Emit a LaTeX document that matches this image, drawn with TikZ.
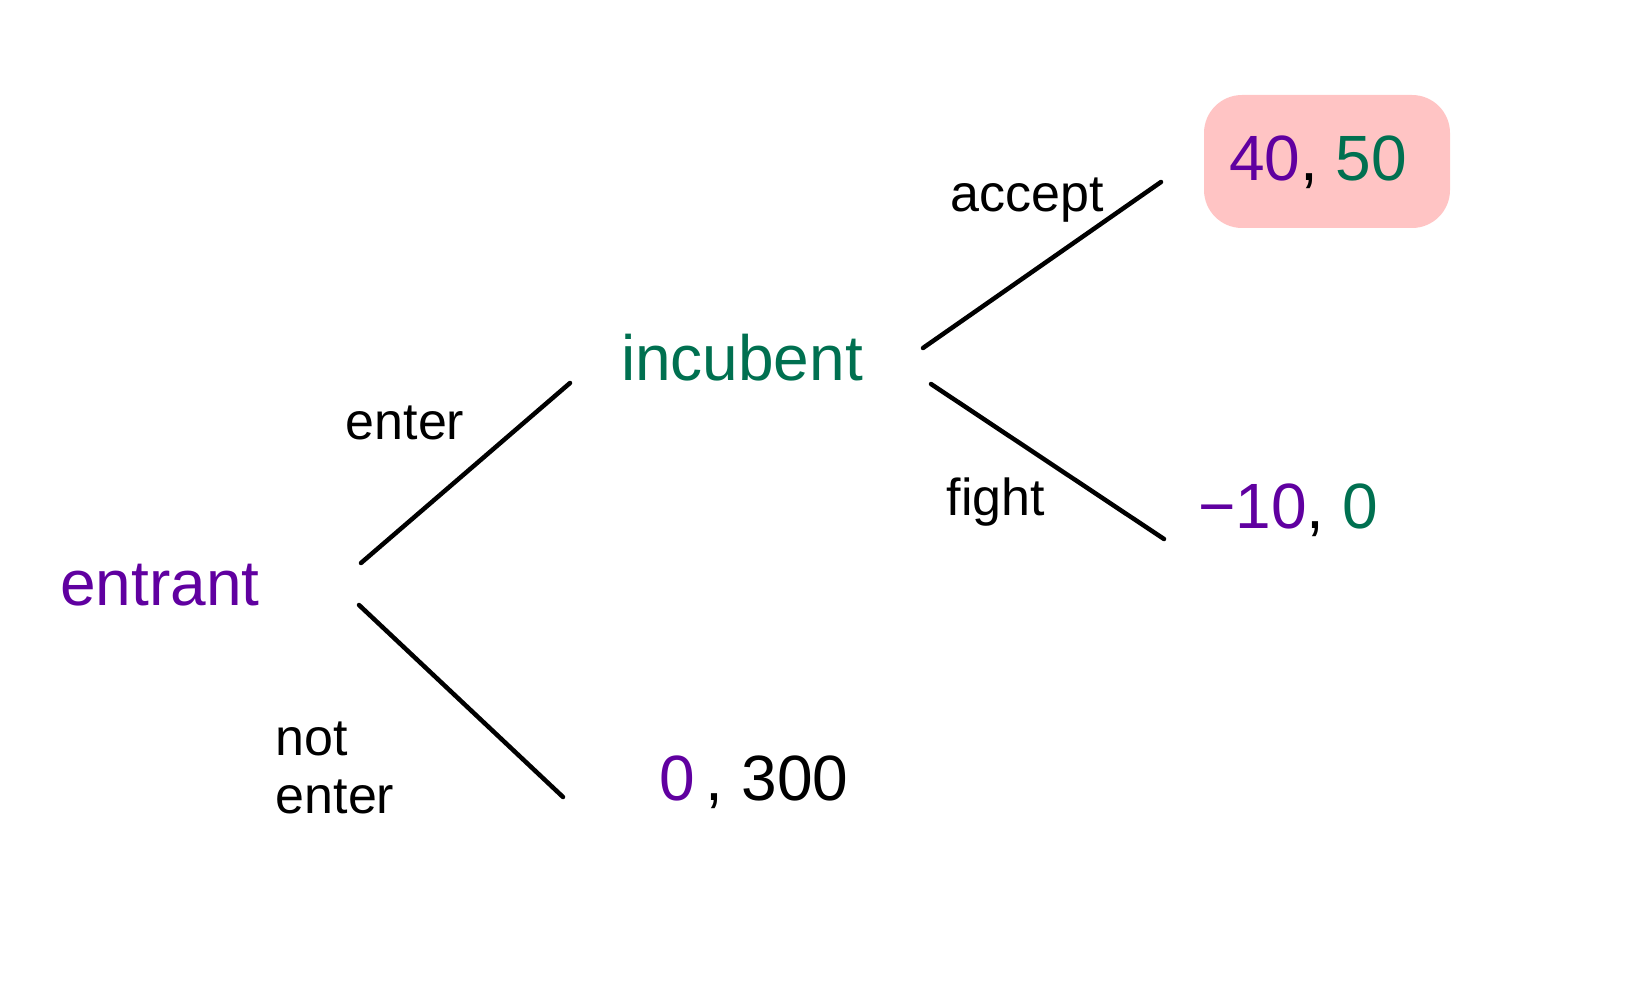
\documentclass[tikz,border=0pt]{standalone}
\usepackage{fontspec}
\setmainfont{Liberation Sans}
\definecolor{entc}{RGB}{96,0,160}
\definecolor{incc}{RGB}{0,112,80}
\definecolor{blob}{RGB}{255,196,196}
\begin{document}
\begin{tikzpicture}[x=1pt,y=-1pt,
  branch/.style={line width=4.5pt,line cap=round,black},
  lbl/.style={font=\fontsize{52}{58}\selectfont,inner sep=0pt},
  big/.style={font=\fontsize{64}{70}\selectfont,inner sep=0pt}]
\useasboundingbox (0,0) rectangle (1635,1000);
% payoff highlight
\fill[blob,rounded corners=38pt] (1204,95) rectangle (1450,228);
% players
\node[big,text=entc] (entrant) at (160,585) {entrant};
\node[big,text=incc] (incumbent) at (742,358) {incubent};
% branch end points
\coordinate (e1) at (361,563); \coordinate (e2) at (570,383);
\coordinate (n1) at (359,605); \coordinate (n2) at (563,797);
\coordinate (a1) at (923,348); \coordinate (a2) at (1161,182);
\coordinate (f1) at (931,384); \coordinate (f2) at (1164,539);
\draw[branch] (e1) -- (e2);
\draw[branch] (n1) -- (n2);
\draw[branch] (a1) -- (a2);
\draw[branch] (f1) -- (f2);
% action labels
\node[lbl] (lenter) at (405,423) {enter};
\node[lbl,align=left] (lnot) at (335,768) {not\\enter};
\node[lbl] (laccept) at (1027,200) {accept};
\node[lbl] (lfight) at (996,502) {fight};
% payoffs
\node[big] (p1) at (1318,162) {\textcolor{entc}{40}, \textcolor{incc}{50}};
\node[big] (p2) at (1288,510) {\textcolor{entc}{−10}, \textcolor{incc}{0}};
\node[big] (p3) at (754,782) {\textcolor{entc}{0}\,, 300};
\end{tikzpicture}
\end{document}
